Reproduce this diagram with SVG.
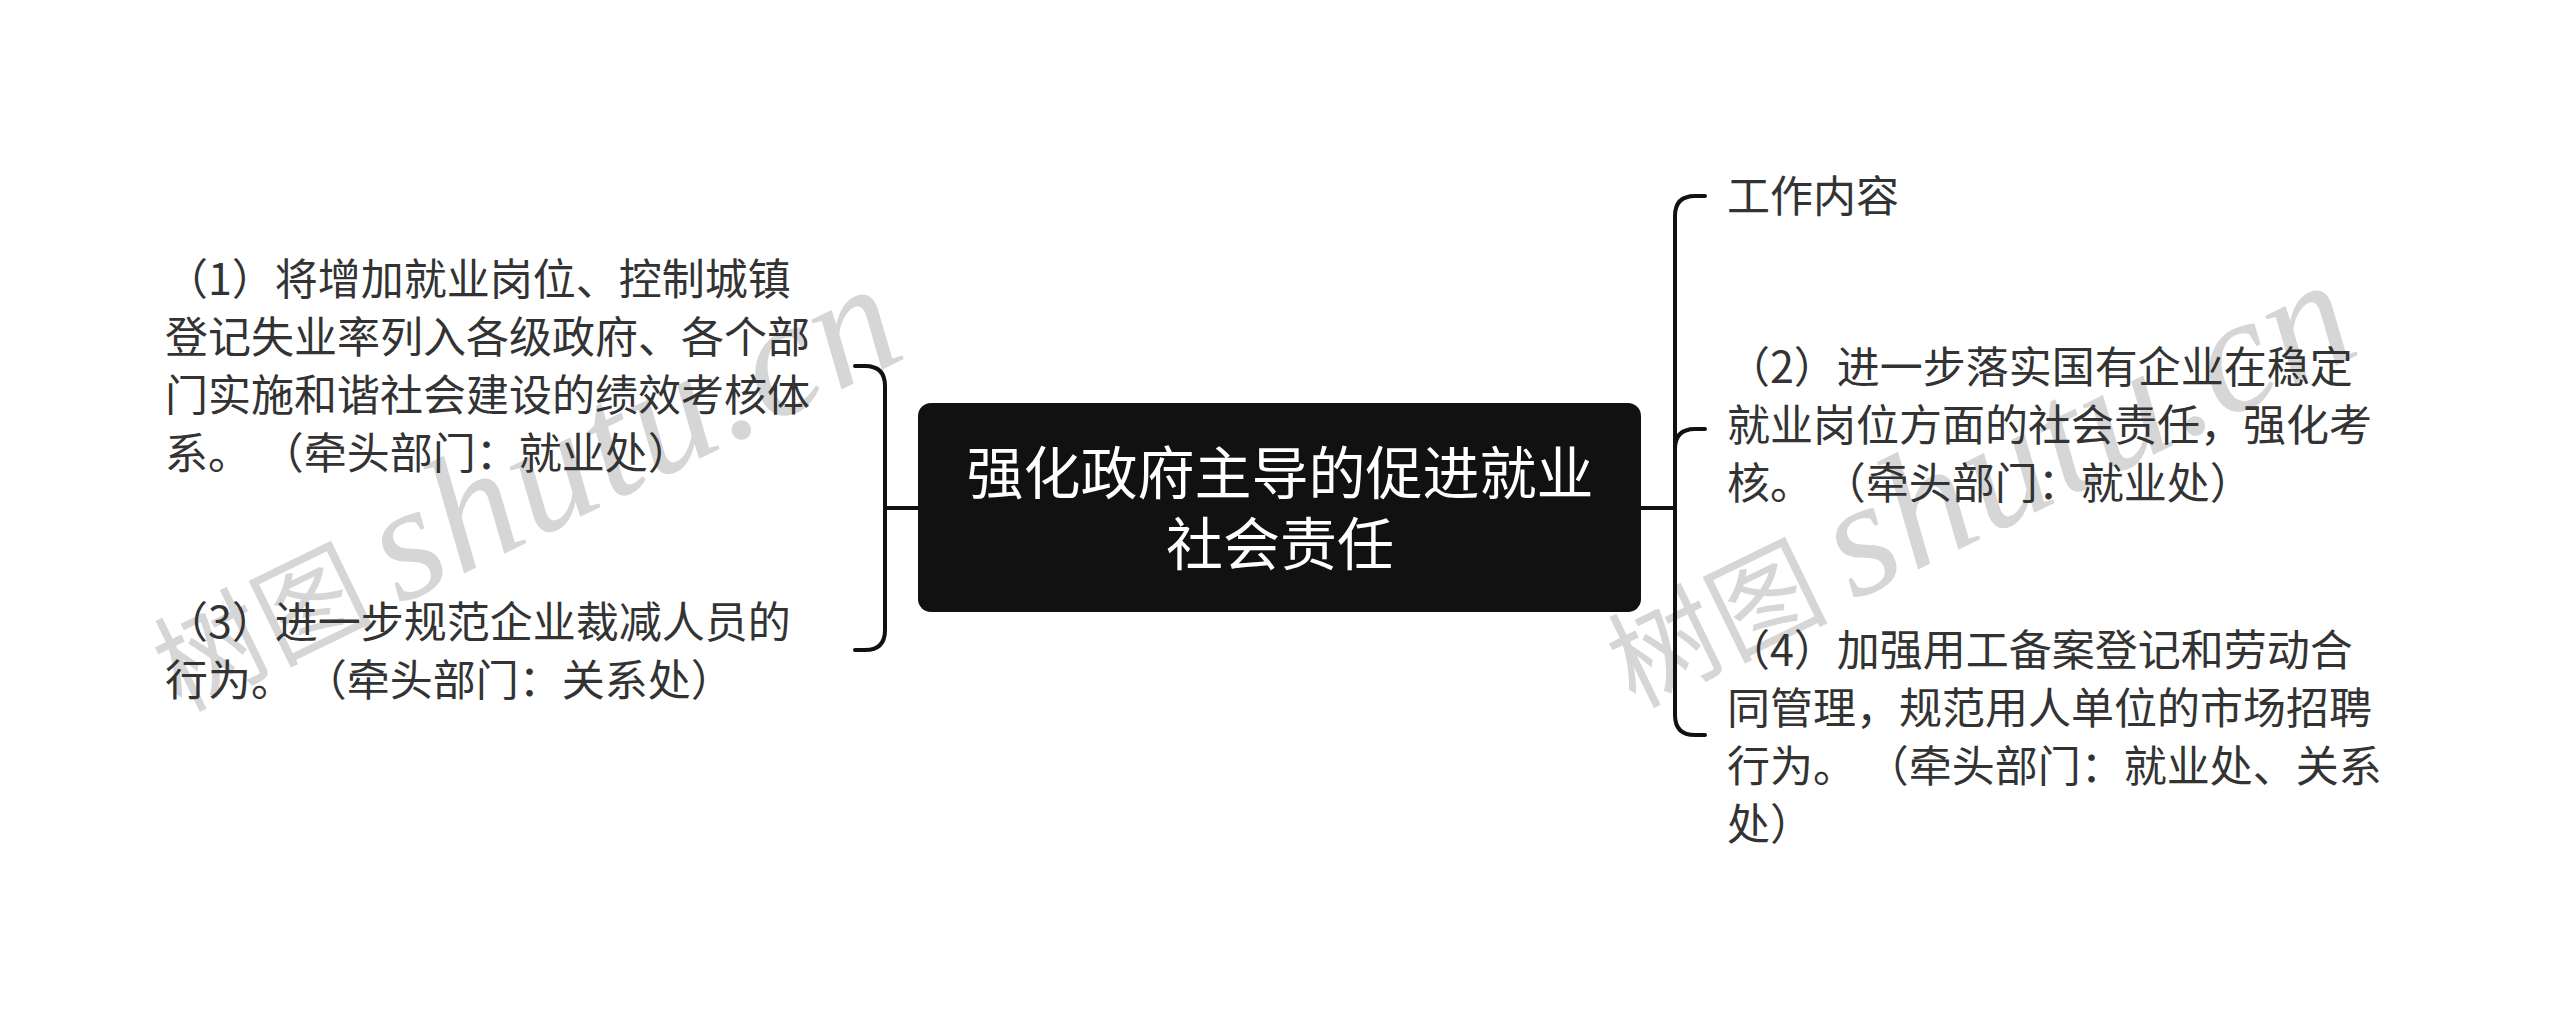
<svg xmlns="http://www.w3.org/2000/svg" width="2560" height="1017" viewBox="0 0 2560 1017">
<style>
.wm{fill:#d6d6d6;font-family:"Liberation Serif","Noto Sans CJK SC",serif;font-style:italic}
.wm .cjk{font-family:"Noto Sans CJK SC",sans-serif;font-style:normal;font-size:110px}
.wm .lat{font-size:165px;letter-spacing:2px}
.t{fill:#333333;font-family:"Noto Sans CJK SC",sans-serif;font-size:43px}
.ct{fill:#ffffff;font-family:"Noto Sans CJK SC",sans-serif;font-size:57px;text-anchor:middle}
.c{fill:none;stroke:#111111;stroke-width:4;stroke-linecap:round}
</style>
<rect width="2560" height="1017" fill="#ffffff"/>
<g id="watermarks">
<text class="wm" transform="translate(180,712) rotate(-26)"><tspan class="cjk">树图</tspan><tspan class="lat" dx="24">shutu.cn</tspan></text>
<text class="wm" transform="translate(1634,708) rotate(-26)"><tspan class="cjk">树图</tspan><tspan class="lat" dx="24">shutu.cn</tspan></text>
</g>
<g id="connectors">
<path class="c" d="M918,508 H885"/>
<path class="c" d="M885,508 V386 Q885,366 865,366 H855"/>
<path class="c" d="M885,508 V630 Q885,650 865,650 H855"/>
<path class="c" d="M1641,508 H1675"/>
<path class="c" d="M1675,508 V216 Q1675,196 1695,196 H1705"/>
<path class="c" d="M1675,508 V449 Q1675,429 1695,429 H1705"/>
<path class="c" d="M1675,508 V715 Q1675,735 1695,735 H1705"/>
</g>
<g id="root">
<rect x="918" y="403" width="723" height="209" rx="13" ry="13" fill="#111111"/>
<text class="ct"><tspan x="1280" y="494">强化政府主导的促进就业</tspan><tspan x="1280" y="565">社会责任</tspan></text>
</g>
<g id="node1">
<text class="t"><tspan x="165" y="295">（1）将增加就业岗位、控制城镇</tspan><tspan x="165" y="353">登记失业率列入各级政府、各个部</tspan><tspan x="165" y="411">门实施和谐社会建设的绩效考核体</tspan><tspan x="165" y="469">系。 （牵头部门：就业处）</tspan></text>
</g>
<g id="node3">
<text class="t"><tspan x="165" y="638">（3）进一步规范企业裁减人员的</tspan><tspan x="165" y="696">行为。 （牵头部门：关系处）</tspan></text>
</g>
<g id="node-work">
<text class="t"><tspan x="1727" y="212">工作内容</tspan></text>
</g>
<g id="node2">
<text class="t"><tspan x="1727" y="383">（2）进一步落实国有企业在稳定</tspan><tspan x="1727" y="441">就业岗位方面的社会责任，强化考</tspan><tspan x="1727" y="499">核。 （牵头部门：就业处）</tspan></text>
</g>
<g id="node4">
<text class="t"><tspan x="1727" y="666">（4）加强用工备案登记和劳动合</tspan><tspan x="1727" y="724">同管理，规范用人单位的市场招聘</tspan><tspan x="1727" y="782">行为。 （牵头部门：就业处、关系</tspan><tspan x="1727" y="840">处）</tspan></text>
</g>
</svg>
